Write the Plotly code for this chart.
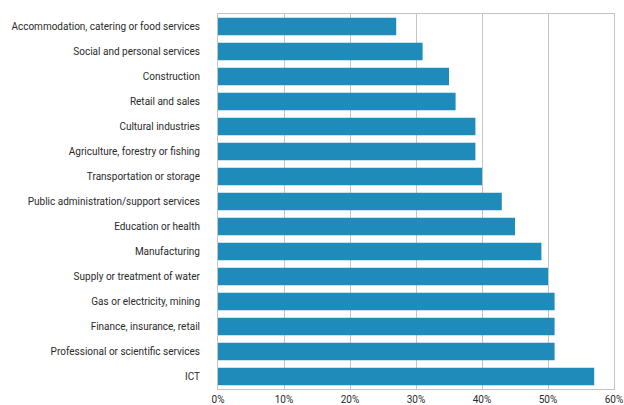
import plotly.graph_objects as go

categories = [
    "Accommodation, catering or food services",
    "Social and personal services",
    "Construction",
    "Retail and sales",
    "Cultural industries",
    "Agriculture, forestry or fishing",
    "Transportation or storage",
    "Public administration/support services",
    "Education or health",
    "Manufacturing",
    "Supply or treatment of water",
    "Gas or electricity, mining",
    "Finance, insurance, retail",
    "Professional or scientific services",
    "ICT",
]
values = [27, 31, 35, 36, 39, 39, 40, 43, 45, 49, 50, 51, 51, 51, 57]
tick_vals = [0, 10, 20, 30, 40, 50, 60]
tick_text = ["0%", "10%", "20%", "30%", "40%", "50%", "60%"]

font_family = "Roboto, Liberation Sans, sans-serif"

fig = go.Figure(go.Bar(
    y=categories,
    x=values,
    orientation="h",
    marker=dict(color="#1f8bba", line=dict(width=0)),
))

fig.update_layout(
    width=624, height=405,
    margin=dict(l=218, r=10, t=14, b=16),
    paper_bgcolor="white", plot_bgcolor="white",
    bargap=0.3,
    showlegend=False,
    font=dict(family=font_family, size=10, color="#2a2a2a"),
)
fig.update_xaxes(
    range=[0, 60], tickvals=tick_vals, ticktext=tick_text,
    showgrid=True, gridcolor="#c4c4c4", gridwidth=1,
    showline=True, linecolor="#c4c4c4", linewidth=1, mirror=True,
    zeroline=False, ticks="", fixedrange=True, automargin=False,
    ticklabelstandoff=1, ticklabeloverflow="allow",
)
fig.update_yaxes(
    categoryorder="array", categoryarray=categories, autorange="reversed",
    showgrid=False, showline=True, linecolor="#c4c4c4", linewidth=1, mirror=True,
    ticks="", ticklabelstandoff=15, automargin=False,
)

fig.write_html("out.html")
